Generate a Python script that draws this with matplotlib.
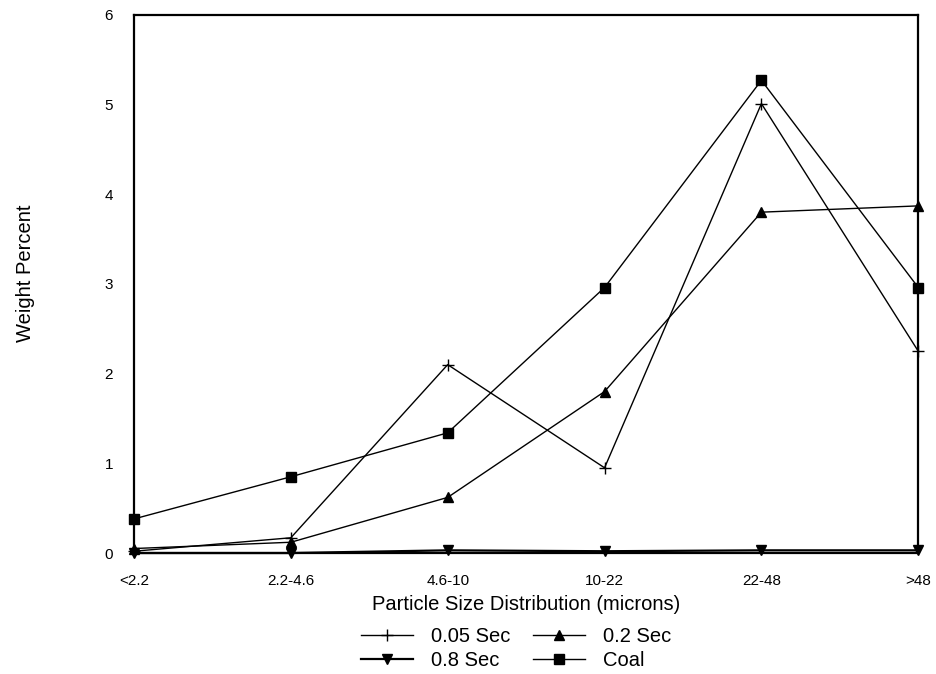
import numpy as np
import matplotlib.pyplot as plt

plt.rcParams['font.family'] = ['Liberation Sans', 'DejaVu Sans']

# Particle size bins and weight percent per residence time
categories = ["<2.2", "2.2-4.6", "4.6-10", "10-22", "22-48", ">48"]
sec_005 = [0.02, 0.17, 2.10, 0.95, 5.01, 2.25]
sec_02 = [0.05, 0.12, 0.62, 1.80, 3.80, 3.87]
sec_08 = [0.0, 0.0, 0.03, 0.02, 0.03, 0.03]
coal = [0.38, 0.85, 1.34, 2.96, 5.27, 2.96]

fig = plt.figure(figsize=(9.37, 6.74), dpi=100)
ax = fig.add_axes([0.143, 0.1795, 0.837, 0.7985])

x = np.arange(len(categories))
# clip_on off so the markers sitting on the frame are drawn whole
l1, = ax.plot(x, sec_005, color="black", lw=1.0, marker="+", ms=9, mew=1.0, clip_on=False, label="0.05 Sec")
l2, = ax.plot(x, sec_02, color="black", lw=1.0, marker="^", ms=7, clip_on=False, label="0.2 Sec")
l3, = ax.plot(x, sec_08, color="black", lw=1.6, marker="v", ms=7, clip_on=False, label="0.8 Sec")
l4, = ax.plot(x, coal, color="black", lw=1.0, marker="s", ms=7, clip_on=False, label="Coal")

ax.set_xlim(0, len(categories) - 1)
ax.set_ylim(0, 6)
ax.set_xticks(x)
ax.set_xticklabels(categories)
ax.set_yticks(range(0, 7))
ax.tick_params(length=0, labelsize=11)
ax.tick_params(axis="y", pad=15)
ax.tick_params(axis="x", pad=15)
for s in ax.spines.values():
    s.set_linewidth(1.6)

ax.set_xlabel("Particle Size Distribution (microns)", fontsize=14.5, labelpad=5)
fig.text(0.027, 0.595, "Weight Percent", rotation=90, fontsize=14.5, ha="center", va="center")

# ncol fills column-wise, so order entries to get 0.05/0.2 on the top row
fig.legend([l1, l3, l2, l4], ["0.05 Sec", "0.8 Sec", "0.2 Sec", "Coal"],
           loc="center", bbox_to_anchor=(0.551, 0.038), ncol=2, frameon=False,
           fontsize=14.5, handlelength=2.6, columnspacing=1.1, labelspacing=0.25,
           handletextpad=0.9, borderpad=0.1)

fig.savefig("out.png", dpi=100)
